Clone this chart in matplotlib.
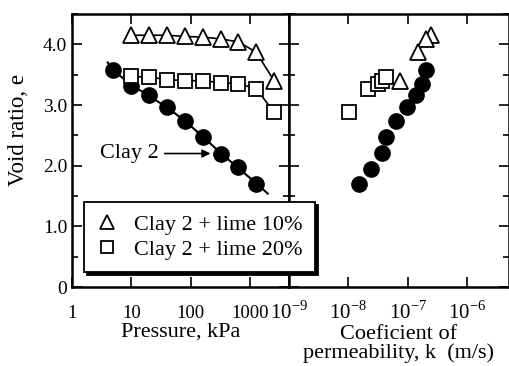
import numpy as np
import matplotlib
matplotlib.use("Agg")
import matplotlib.pyplot as plt
from matplotlib.ticker import FixedLocator, NullFormatter, LogLocator, FixedFormatter

plt.rcParams['font.family'] = 'Liberation Serif'
plt.rcParams['mathtext.fontset'] = 'custom'
plt.rcParams['mathtext.rm'] = 'Liberation Serif'

# oedometer steps, kPa
p_clay = [5, 10, 20, 40, 80, 160, 320, 640, 1280]
e_clay = [3.57, 3.32, 3.17, 2.97, 2.73, 2.48, 2.20, 1.97, 1.70]
p_fit = [4, 5, 10, 20, 40, 80, 160, 320, 640, 1280, 2000]
e_fit = [3.70, 3.57, 3.33, 3.15, 2.96, 2.74, 2.48, 2.21, 1.96, 1.71, 1.54]

p_lime = [10, 20, 40, 80, 160, 320, 640, 1280, 2560]
e_lime10 = [4.15, 4.15, 4.15, 4.13, 4.12, 4.09, 4.04, 3.87, 3.40]
e_lime20 = [3.47, 3.46, 3.42, 3.40, 3.40, 3.37, 3.35, 3.27, 2.88]

# permeability, m/s
k_clay = [2.04e-7, 1.7e-7, 1.38e-7, 9.8e-8, 6.2e-8, 4.3e-8, 3.7e-8, 2.4e-8, 1.5e-8]
ek_clay = [3.57, 3.35, 3.17, 2.97, 2.73, 2.47, 2.21, 1.95, 1.70]
k_lime10 = [2.4e-7, 2.05e-7, 1.5e-7, 7.4e-8]
ek_lime10 = [4.15, 4.08, 3.87, 3.40]
k_lime20 = [1.02e-8, 2.1e-8, 3.2e-8, 3.7e-8, 4.3e-8]
ek_lime20 = [2.89, 3.27, 3.35, 3.40, 3.46]

W, H = 510, 366
fig = plt.figure(figsize=(W / 100, H / 100), dpi=100)
ax1 = fig.add_axes([72 / W, 1 - 287 / H, (289 - 72) / W, (287 - 14) / H])
ax2 = fig.add_axes([289 / W, 1 - 287 / H, (509 - 289) / W, (287 - 14) / H])

ms = 11
mk = dict(color='black', mfc='white', mec='black', mew=1.3, ls='none')

ax1.plot(p_fit, e_fit, color='black', lw=1.5)
ax1.plot(p_clay, e_clay, 'o', color='black', ms=ms)
ax1.plot(p_lime, e_lime10, '-', color='black', lw=1.2)
ax1.plot(p_lime, e_lime10, '^', ms=ms + 1, **mk)
ax1.plot(p_lime, e_lime20, '-', color='black', lw=1.2)
ax1.plot(p_lime, e_lime20, 's', ms=ms - 1, **mk)

ax2.plot(k_clay, ek_clay, 'o', color='black', ms=ms)
ax2.plot(k_lime10, ek_lime10, '^', ms=ms + 1, **mk)
ax2.plot(k_lime20, ek_lime20, 's', ms=ms - 1, **mk)

ax1.set_xscale('log')
ax1.set_xlim(1, 10 ** 3.66)
ax2.set_xscale('log')
ax2.set_xlim(1e-9, 10 ** -5.3)
for ax in (ax1, ax2):
    ax.set_ylim(0, 4.5)
    ax.yaxis.set_major_locator(FixedLocator([0, 1, 2, 3, 4]))
    ax.yaxis.set_minor_locator(FixedLocator([0.5, 1.5, 2.5, 3.5, 4.5]))
    ax.tick_params(which='both', direction='in', top=True, right=True,
                   width=1.2, labelsize=14)
    ax.tick_params(which='major', length=7)
    ax.tick_params(which='minor', length=4)
    for s in ax.spines.values():
        s.set_linewidth(1.8)

ax1.xaxis.set_major_locator(FixedLocator([1, 10, 100, 1000]))
ax1.xaxis.set_major_formatter(FixedFormatter(['1', '10', '100', '1000']))
ax1.xaxis.set_minor_locator(LogLocator(base=10, subs=np.arange(2, 10)))
ax1.xaxis.set_minor_formatter(NullFormatter())
ax1.yaxis.set_major_formatter(FixedFormatter(['0', '1.0', '2.0', '3.0', '4.0']))
ax1.tick_params(axis='x', pad=13, labelsize=13.5)

ax2.xaxis.set_major_locator(FixedLocator([1e-9, 1e-8, 1e-7, 1e-6]))
ax2.xaxis.set_major_formatter(FixedFormatter([r'$10^{-9}$', r'$10^{-8}$',
                                              r'$10^{-7}$', r'$10^{-6}$']))
ax2.xaxis.set_minor_locator(FixedLocator([]))
ax2.yaxis.set_major_formatter(NullFormatter())
ax2.tick_params(axis='x', pad=10, labelsize=15)

ax1.set_ylabel('Void ratio, e', fontsize=16.5)
ax1.yaxis.set_label_coords(-0.2, 0.575)
ax1.set_xlabel('Pressure, kPa', fontsize=16)
ax1.xaxis.set_label_coords(0.5, -0.13)
ax2.set_xlabel('Coeficient of\npermeability, k  (m/s)', fontsize=16,
               linespacing=0.95)
ax2.xaxis.set_label_coords(0.5, -0.14)

ax1.annotate('Clay 2', xy=(300, 2.2), xytext=(3.0, 2.2), fontsize=16,
             va='center', ha='left',
             arrowprops=dict(arrowstyle='-|>', color='black', lw=1.2,
                             shrinkA=2, shrinkB=6, mutation_scale=12))

hl = [plt.Line2D([], [], marker='^', ms=10, **mk),
      plt.Line2D([], [], marker='s', ms=9, **mk)]
leg = fig.legend(hl, ['Clay 2 + lime 10%', 'Clay 2 + lime 20%'],
                 loc='upper left', bbox_to_anchor=(84 / W, 1 - 202 / H),
                 fontsize=16, frameon=True, fancybox=False,
                 shadow={'color': 'black', 'alpha': 1},
                 handlelength=1.0, handletextpad=0.7, borderpad=0.55,
                 labelspacing=0.2, borderaxespad=0)
leg.get_frame().set_edgecolor('black')
leg.get_frame().set_linewidth(1.3)

fig.savefig('out.png', dpi=100)
